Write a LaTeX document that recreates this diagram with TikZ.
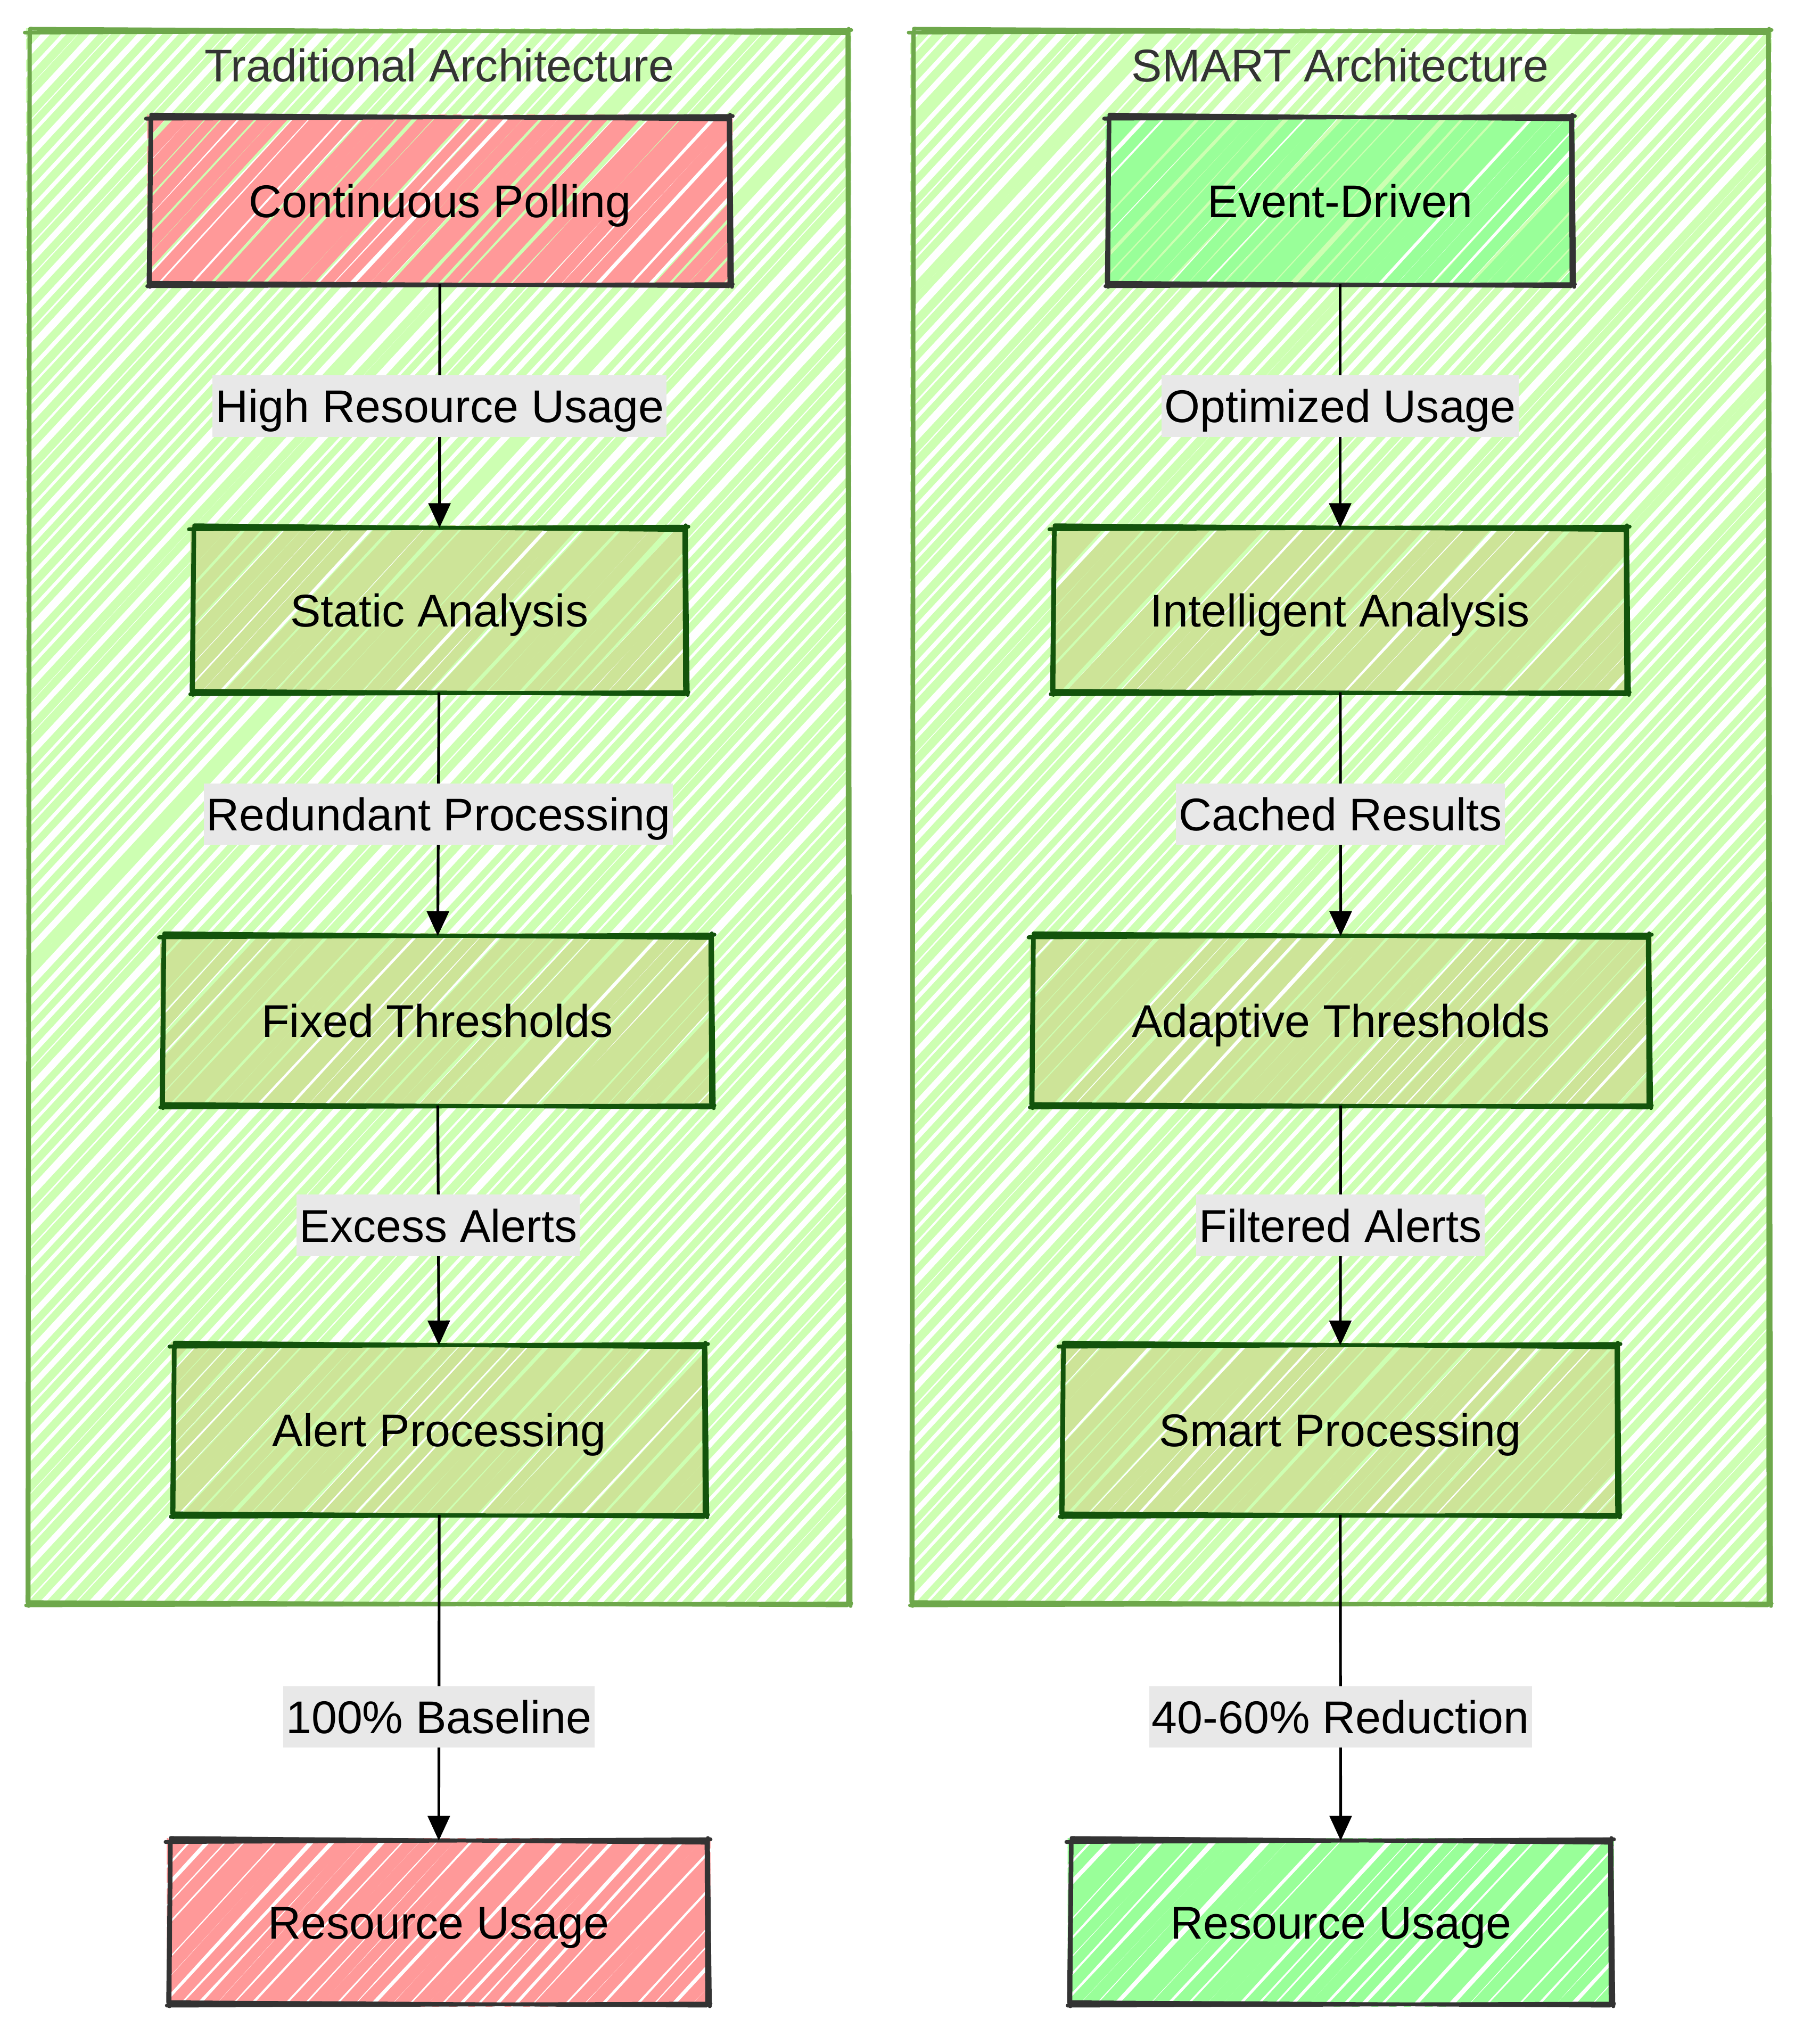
\documentclass[tikz,border=0pt]{standalone}
\usepackage{fontspec}
\setmainfont{Liberation Sans}
\usetikzlibrary{arrows.meta,calc}
\definecolor{clfill}{HTML}{CDFFB2}
\definecolor{clstroke}{HTML}{6EA84B}
\definecolor{ndfill}{HTML}{CDE498}
\definecolor{ndstroke}{HTML}{13540C}
\definecolor{redfill}{HTML}{FF9999}
\definecolor{grnfill}{HTML}{99FF99}
\definecolor{darkgray}{HTML}{333333}
\definecolor{lblbg}{HTML}{E8E8E8}
\tikzset{
  box/.style={rectangle, draw=none, outer sep=0pt, inner sep=0pt,
    font=\fontsize{10}{12}\selectfont, text height=7.2pt, text depth=0pt, text=black},
  lbl/.style={rectangle, fill=lblbg, inner xsep=0.6pt, inner ysep=0pt, minimum height=13.4pt,
    font=\fontsize{10}{12}\selectfont, text height=7.2pt, text depth=0pt, text=black},
  ctitle/.style={font=\fontsize{10}{12}\selectfont, text=darkgray, text height=7.2pt, text depth=0pt, inner sep=0pt},
  edge/.style={draw=black, line width=0.6pt, -{Triangle[length=5.4pt,width=4.8pt]}},
}
% hachure fill: x1 y1 x2 y2 color linewidth(units) step(units)
\newcommand\hatchbox[7]{%
  \begin{scope}
    \clip (#1-2,#2-2) rectangle (#3+2,#4+2);
    \pgfmathsetmacro\hhH{(#4-#2+4)/1.08}%
    \pgfmathsetmacro\hsA{#1-2-\hhH}%
    \pgfmathsetmacro\hsB{\hsA+#7}%
    \pgfmathsetmacro\hsE{#3+2}%
    \foreach \a in {\hsA,\hsB,...,\hsE}{%
      \pgfmathsetmacro\jA{\a+1.8*rand}%
      \pgfmathsetmacro\jB{\jA+\hhH+2.5*rand}%
      \pgfmathsetmacro\jW{(#6+0.9*rand)*0.2845}%
      \draw[draw=#5, line width=\jW pt] (\jA,#4+2) -- (\jB,#2-2);}
  \end{scope}}
% sketchy double-stroked rectangle
\newcommand\roughbox[6]{%
  \draw[draw=#5, line width=#6, line cap=round]
    (#1-3,#2+1) -- (#3+2,#2-1)
    (#1+1,#2-2) -- (#3-1,#2+1.5)
    (#3,#2-2) -- (#3+1.5,#4+2)
    (#3-1,#2+1) -- (#3-0.5,#4-1)
    (#3+2,#4) -- (#1-2,#4+1.5)
    (#3-1,#4+1.5) -- (#1+1,#4-1)
    (#1,#4+2) -- (#1+1,#2-1)
    (#1-1,#4-1) -- (#1+0.5,#2+2);}
% name cx cy w h fill stroke text
\newcommand\flownode[8]{%
  \pgfmathsetmacro\xa{#2-#4/2}\pgfmathsetmacro\xb{#2+#4/2}%
  \pgfmathsetmacro\ya{#3-#5/2}\pgfmathsetmacro\yb{#3+#5/2}%
  \hatchbox{\xa}{\ya}{\xb}{\yb}{#6}{8.6}{13.5}%
  \roughbox{\xa}{\ya}{\xb}{\yb}{#7}{0.85pt}%
  \node[box, minimum width=#4*0.2845pt, minimum height=#5*0.2845pt] (#1) at (#2,#3) {#8};}
\begin{document}
\begin{tikzpicture}[x=0.01cm, y=-0.01cm]
\pgfmathsetseed{4242}
\useasboundingbox (0,0) rectangle (1383,1568);
\fill[white] (0,0) rectangle (1383,1568);
% clusters
\hatchbox{22}{24}{651}{1230}{clfill}{5.9}{12.5}
\roughbox{22}{24}{651}{1230}{clstroke}{0.8pt}
\hatchbox{700}{24}{1357}{1230}{clfill}{5.9}{12.5}
\roughbox{700}{24}{1357}{1230}{clstroke}{0.8pt}
\node[ctitle] (t1) at (337,50) {Traditional Architecture};
\node[ctitle] (t2) at (1028,50) {SMART Architecture};
% left column
\flownode{A1}{337.5}{154}{445}{128}{redfill}{darkgray}{Continuous Polling}
\flownode{A2}{337}{468}{378}{126}{ndfill}{ndstroke}{Static Analysis}
\flownode{A3}{335.5}{783}{421}{130}{ndfill}{ndstroke}{Fixed Thresholds}
\flownode{A4}{337}{1097}{408}{130}{ndfill}{ndstroke}{Alert Processing}
\flownode{A5}{336.5}{1474.5}{413}{125}{redfill}{darkgray}{Resource Usage}
% right column
\flownode{B1}{1028}{154}{356}{128}{grnfill}{darkgray}{Event-Driven}
\flownode{B2}{1028}{468}{440}{126}{ndfill}{ndstroke}{Intelligent Analysis}
\flownode{B3}{1028.5}{783}{473}{130}{ndfill}{ndstroke}{Adaptive Thresholds}
\flownode{B4}{1028}{1097}{426}{130}{ndfill}{ndstroke}{Smart Processing}
\flownode{B5}{1028.5}{1474.5}{415}{125}{grnfill}{darkgray}{Resource Usage}
% edges
\draw[edge] (A1) -- node[lbl] {High Resource Usage} (A2);
\draw[edge] (A2) -- node[lbl] {Redundant Processing} (A3);
\draw[edge] (A3) -- node[lbl] {Excess Alerts} (A4);
\draw[edge] (A4) -- node[lbl, pos=0.62] {100\% Baseline} (A5);
\draw[edge] (B1) -- node[lbl] {Optimized Usage} (B2);
\draw[edge] (B2) -- node[lbl] {Cached Results} (B3);
\draw[edge] (B3) -- node[lbl] {Filtered Alerts} (B4);
\draw[edge] (B4) -- node[lbl, pos=0.62] {40-60\% Reduction} (B5);
\end{tikzpicture}
\end{document}
